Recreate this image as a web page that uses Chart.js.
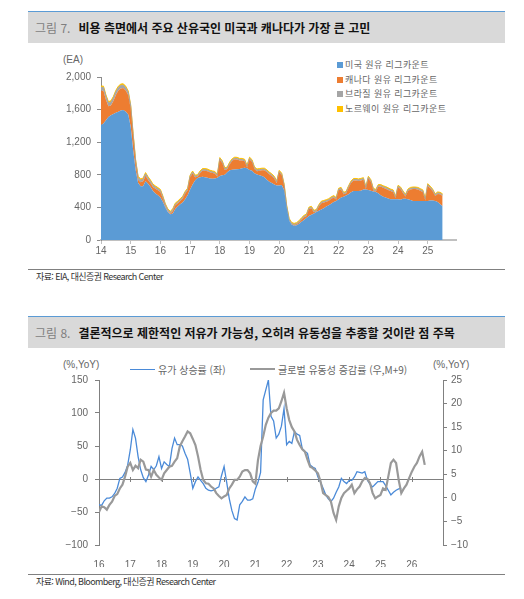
<!DOCTYPE html>
<html lang="ko">
<head>
<meta charset="utf-8">
<script src="https://cdn.jsdelivr.net/npm/chart.js@4.4.1/dist/chart.umd.min.js"></script>
<style>
  body { margin: 0; width: 524px; height: 599px; position: relative; overflow: hidden; background: #fff;
         font-family: "Noto Sans CJK KR", "Liberation Sans", sans-serif; color: #595959; }
  .title-bar { position: absolute; left: 28px; width: 470px; height: 31px; padding-left: 7px;
               background: #d9d9d9; border-top: 1px solid #5b9bd5; font-size: 12px; line-height: 31px; white-space: nowrap; }
  .title-bar .num { color: #7f7f7f; margin-right: 8px; }
  .title-bar b { color: #111; }
  .source { position: absolute; left: 28px; width: 469px; padding-left: 8px; border-top: 1px solid #808080;
            font-size: 9px; line-height: 14px; letter-spacing: -0.6px; color: #333; white-space: nowrap; }
  .unit { position: absolute; font-family: "Liberation Sans", "Noto Sans CJK KR", sans-serif; font-size: 10px; color: #666; }
  canvas { position: absolute; }
  .legend-top { position: absolute; left: 337px; top: 58px; font-size: 9px; letter-spacing: 0.4px; color: #666; }
  .legend-top div { height: 14.5px; line-height: 14.5px; white-space: nowrap; }
  .legend-top span { display: inline-block; width: 6px; height: 6px; margin-right: 2px; vertical-align: 0px; }
  .legend-bottom { position: absolute; top: 362px; font-size: 10px; color: #666; white-space: nowrap; line-height: 16px; }
  .legend-bottom span { display: inline-block; width: 25px; vertical-align: 4px; margin-right: 3px; }
</style>
</head>
<body>

<div class="title-bar" style="top:11px"><span class="num">그림 7.</span><b>비용 측면에서 주요 산유국인 미국과 캐나다가 가장 큰 고민</b></div>
<div class="unit" style="left:63px; top:54px">(EA)</div>
<div class="legend-top">
  <div><span style="background:#5b9bd5"></span>미국 원유 리그카운트</div>
  <div><span style="background:#ed7d31"></span>캐나다 원유 리그카운트</div>
  <div><span style="background:#a5a5a5"></span>브라질 원유 리그카운트</div>
  <div><span style="background:#ffc000"></span>노르웨이 원유 리그카운트</div>
</div>
<canvas id="rig-chart" width="430" height="212" style="left:40px; top:52px; width:430px; height:212px"></canvas>
<div class="source" style="top:269px">자료: EIA, 대신증권 Research Center</div>

<div class="title-bar" style="top:316px"><span class="num">그림 8.</span><b>결론적으로 제한적인 저유가 가능성, 오히려 유동성을 추종할 것이란 점 주목</b></div>
<div class="unit" style="left:63px; top:359px">(%,YoY)</div>
<div class="unit" style="left:433px; top:359px">(%,YoY)</div>
<div class="legend-bottom" style="left:130px"><span style="border-top:1.5px solid #4a8ad8"></span>유가 상승률 (좌)</div>
<div class="legend-bottom" style="left:250px"><span style="border-top:2px solid #999"></span>글로벌 유동성 증감률 (우,M+9)</div>
<canvas id="oil-chart" width="450" height="212" style="left:40px; top:355px; width:450px; height:212px"></canvas>
<div class="source" style="top:574px">자료: Wind, Bloomberg, 대신증권 Research Center</div>

<script>
// ---- Figure 7: oil rig counts, monthly from Jan 2014 ----
const rigStartYear = 2014;
const rigYears = [2014, 2015, 2016, 2017, 2018, 2019, 2020, 2021, 2022, 2023, 2024, 2025];
const rigYearLabels = ["14", "15", "16", "17", "18", "19", "20", "21", "22", "23", "24", "25"];
const rigYTicks = [0, 400, 800, 1200, 1600, 2000];

const usRigs = [
  1410, 1430, 1470, 1510, 1530, 1545, 1560, 1575, 1590, 1595, 1575, 1540,
  1390, 1100, 860, 700, 660, 660, 720, 690, 650, 600, 570, 550,
  520, 470, 400, 345, 315, 325, 380, 410, 440, 460, 500, 550,
  620, 680, 730, 760, 770, 775, 770, 765, 755, 752, 755, 765,
  785, 795, 800, 830, 855, 862, 865, 868, 870, 880, 885, 880,
  860, 850, 820, 805, 795, 785, 770, 740, 715, 700, 680, 670,
  670, 675, 610, 400, 240, 190, 175, 180, 200, 225, 245, 270,
  295, 310, 325, 345, 360, 375, 390, 410, 425, 445, 465, 480,
  500, 520, 530, 545, 560, 585, 600, 600, 600, 605, 620, 620,
  615, 605, 595, 590, 575, 550, 530, 520, 510, 500, 500, 500,
  500, 495, 505, 505, 500, 490, 480, 480, 480, 480, 480, 480,
  480, 485, 485, 480, 465, 440, 415,
];
const canadaRigs = [
  420, 400, 250, 130, 120, 160, 220, 260, 270, 270, 260, 240,
  220, 160, 80, 40, 50, 60, 70, 50, 50, 50, 60, 60,
  70, 40, 15, 8, 10, 30, 45, 40, 40, 50, 70, 60,
  150, 140, 40, 15, 50, 75, 80, 80, 75, 70, 60, 15,
  200, 150, 60, 40, 75, 110, 125, 120, 105, 95, 80, 10,
  130, 110, 50, 40, 55, 70, 85, 95, 92, 85, 75, 30,
  160, 120, 50, 5, 3, 5, 8, 12, 16, 25, 35, 25,
  85, 80, 15, 5, 50, 77, 70, 60, 57, 60, 55, 16,
  110, 100, 30, 25, 80, 113, 130, 130, 125, 126, 120, 10,
  142, 110, 15, 5, 80, 105, 110, 110, 105, 100, 90, 11,
  146, 130, 72, 30, 100, 130, 145, 145, 140, 125, 110, 5,
  186, 150, 113, 60, 100, 120, 125,
];
const brazilRigs = [
  40, 40, 42, 40, 40, 38, 38, 36, 36, 35, 34, 32,
  30, 28, 26, 25, 24, 24, 22, 22, 20, 20, 18, 18,
  16, 15, 15, 14, 14, 14, 13, 13, 13, 12, 12, 12,
  12, 12, 12, 12, 12, 12, 12, 12, 12, 12, 12, 12,
  12, 12, 12, 12, 12, 12, 12, 12, 12, 12, 12, 12,
  12, 12, 12, 12, 12, 12, 12, 12, 12, 12, 12, 12,
  10, 10, 9, 8, 8, 8, 8, 8, 8, 9, 9, 10,
  10, 10, 11, 11, 11, 11, 12, 12, 12, 12, 12, 12,
  12, 12, 12, 12, 12, 12, 12, 12, 12, 12, 12, 12,
  12, 12, 12, 12, 12, 12, 12, 12, 12, 12, 12, 12,
  12, 12, 12, 12, 12, 12, 12, 12, 12, 12, 12, 12,
  12, 12, 12, 12, 12, 12, 12,
];
const norwayRigs = [
  18, 18, 18, 18, 18, 18, 18, 17, 17, 17, 17, 17,
  16, 16, 16, 16, 15, 15, 15, 15, 15, 15, 15, 15,
  14, 14, 14, 14, 14, 14, 14, 14, 14, 14, 14, 14,
  14, 14, 14, 14, 14, 14, 14, 14, 14, 14, 14, 14,
  14, 14, 14, 14, 14, 14, 14, 14, 14, 14, 14, 14,
  14, 14, 14, 14, 14, 14, 14, 14, 14, 14, 14, 14,
  14, 14, 14, 13, 13, 13, 13, 13, 13, 13, 13, 13,
  13, 13, 13, 13, 13, 13, 13, 13, 13, 13, 13, 13,
  13, 13, 13, 13, 13, 13, 13, 13, 13, 13, 13, 13,
  13, 13, 13, 13, 13, 13, 13, 13, 13, 13, 13, 13,
  13, 13, 13, 13, 13, 13, 13, 13, 13, 13, 13, 13,
  13, 13, 13, 13, 13, 13, 13,
];

// ---- Figure 8: oil price YoY vs global liquidity YoY (M+9), monthly from Jan 2016 ----
const oilStartYear = 2016;
const oilYears = [2016, 2017, 2018, 2019, 2020, 2021, 2022, 2023, 2024, 2025, 2026];
const oilYearLabels = ["16", "17", "18", "19", "20", "21", "22", "23", "24", "25", "26"];
const leftTicks = [-100, -50, 0, 50, 100, 150];
const rightTicks = [-10, -5, 0, 5, 10, 15, 20, 25];

const oilYoY = [
  -39, -40, -33, -29, -29, -27, -22, -14, 1, 3, 10, 21,
  44, 75, 62, 34, 14, 2, -4, 6, 19, 14, 20, 34,
  16, 26, 22, 19, 46, 62, 52, 52, 50, 39, 30, 9,
  -14, -4, 3, -2, -7, -14, -17, -18, -17, -14, -12, 5,
  19, -5, -30, -48, -60, -62, -39, -34, -27, -32, -32, -30,
  -15, -5, 10, 120, 135, 150, 95, 88, 62, 68, 80, 107,
  52, 57, 54, 72, 68, 66, 46, 42, 39, 21, 18, 16,
  3, -5, -14, -24, -30, -34, -29, -20, -12, 1, -4, -7,
  -2, -2, 3, 11, 10, 9, 11, -2, -8, -12, -8, -4,
  -4, -4, -10, -17, -24, -20, -17, -15, -14,
];
const liquidityYoY = [
  -3.0, -1.8, -2.0, -2.5, -1.5, -0.8, 0.4, 0.8, 2.0, 2.8, 4.5, 6.6,
  7.4, 5.9, 6.8, 6.3, 8.1, 7.7, 6.0, 5.9, 4.5, 5.9, 4.9, 4.3,
  3.8, 5.2, 5.9, 6.6, 6.8, 7.7, 8.4, 10.9, 12.0, 13.0, 14.1, 13.7,
  12.5, 11.2, 8.8, 5.9, 3.8, 3.1, 3.0, 2.4, 2.0, 1.0, 0.4, -0.1,
  0.3, 0.6, 2.0, 2.8, 3.8, 3.8, 4.5, 5.6, 5.9, 5.9, 5.2, 3.5,
  3.0, 8.0, 11.0, 13.0, 15.5, 17.0, 18.0, 18.5, 18.5, 19.0, 20.5, 22.3,
  19.0, 16.5, 15.0, 14.1, 12.3, 11.2, 10.3, 9.8, 8.1, 6.6, 6.3, 5.8,
  5.2, 3.5, 1.0, 0.6, 0.2, -0.8, -3.2, -4.7, -1.8, 0.0, 1.0, 1.5,
  2.0, 2.8, 1.0, 1.8, 2.4, 3.5, 4.2, 4.0, 3.1, 1.0, -0.1, 0.3,
  0.6, 2.0, 1.7, 4.5, 7.4, 8.1, 7.4, 3.8, 1.0, 2.0, 2.8, 4.2,
  5.5, 6.6, 7.4, 8.8, 9.8, 7.0,
];

const tickFont = { family: "Liberation Sans, Noto Sans CJK KR", size: 10 };
const tickColor = "#666";

Chart.defaults.animation = false;
Chart.defaults.plugins.legend.display = false;
Chart.defaults.plugins.tooltip.enabled = false;

document.addEventListener("DOMContentLoaded", function () {
  createRigChart();
  createOilChart();
});

function monthly(values, startYear) {
  return values.map((v, i) => ({ x: startYear + i / 12, y: v }));
}

function fixedTicks(values) {
  return (scale) => {
    scale.ticks = values.map((v) => ({ value: v }));
  };
}

function minus(value) {
  return String(value).replace("-", "\u2212");
}

function areaSet(label, values, color, fill, width) {
  return {
    label: label,
    data: monthly(values, rigStartYear),
    backgroundColor: color,
    borderColor: color,
    borderWidth: width,
    fill: fill,
    pointRadius: 0,
    tension: 0,
  };
}

function createRigChart() {
  new Chart(document.getElementById("rig-chart"), {
    type: "line",
    data: {
      datasets: [
        areaSet("미국 원유 리그카운트", usRigs, "#5b9bd5", "origin", 0),
        areaSet("캐나다 원유 리그카운트", canadaRigs, "#ed7d31", "-1", 0),
        areaSet("브라질 원유 리그카운트", brazilRigs, "#a5a5a5", "-1", 1),
        areaSet("노르웨이 원유 리그카운트", norwayRigs, "#ffc000", "-1", 1),
      ],
    },
    options: {
      responsive: false,
      layout: { padding: { top: 25, right: 14, left: 0, bottom: 0 } },
      scales: {
        x: {
          type: "linear",
          min: 2014,
          max: 2025.95,
          afterBuildTicks: fixedTicks(rigYears),
          afterFit: (s) => { s.height = 24; s.paddingLeft = 0; s.paddingRight = 0; },
          border: { color: "#c0c0c0", width: 2 },
          grid: { drawOnChartArea: false, tickLength: 4, color: "#bfbfbf" },
          ticks: {
            padding: 1,
            maxRotation: 0,
            font: tickFont,
            color: tickColor,
            callback: (v) => rigYearLabels[rigYears.indexOf(v)],
          },
        },
        y: {
          stacked: true,
          min: 0,
          max: 2000,
          afterBuildTicks: fixedTicks(rigYTicks),
          afterFit: (s) => { s.width = 61; s.paddingTop = 0; s.paddingBottom = 0; },
          border: { color: "#8c8c8c", width: 1 },
          grid: { drawOnChartArea: false, tickLength: 4, color: "#8c8c8c" },
          ticks: {
            padding: 6,
            font: tickFont,
            color: tickColor,
            callback: (v) => v.toLocaleString("en-US"),
          },
        },
      },
    },
  });
}

// small year marks on the zero line, as in the original
const zeroLineMarks = {
  id: "zeroLineMarks",
  beforeDatasetsDraw(chart) {
    const { ctx, scales } = chart;
    const y0 = scales.y.getPixelForValue(0);
    ctx.save();
    ctx.strokeStyle = "#808080";
    ctx.lineWidth = 1;
    oilYears.forEach((year) => {
      const x = Math.round(scales.x.getPixelForValue(year)) + 0.5;
      ctx.beginPath();
      ctx.moveTo(x, y0 - 2);
      ctx.lineTo(x, y0 + 3);
      ctx.stroke();
    });
    ctx.restore();
  },
};

function createOilChart() {
  new Chart(document.getElementById("oil-chart"), {
    type: "line",
    data: {
      datasets: [
        {
          label: "유가 상승률 (좌)",
          data: monthly(oilYoY, oilStartYear),
          yAxisID: "y",
          borderColor: "#4a8ad8",
          borderWidth: 1.3,
          pointRadius: 0,
          tension: 0,
          order: 2,
        },
        {
          label: "글로벌 유동성 증감률 (우,M+9)",
          data: monthly(liquidityYoY, oilStartYear),
          yAxisID: "y1",
          borderColor: "#999999",
          borderWidth: 2.2,
          pointRadius: 0,
          tension: 0,
          order: 1,
        },
      ],
    },
    options: {
      responsive: false,
      layout: { padding: { top: 25, right: 7, left: 0, bottom: 0 } },
      scales: {
        x: {
          type: "linear",
          min: 2016,
          max: 2027,
          afterBuildTicks: fixedTicks(oilYears),
          afterFit: (s) => { s.height = 22; s.paddingLeft = 0; s.paddingRight = 0; },
          border: { display: false },
          grid: { display: false },
          ticks: {
            padding: 6,
            maxRotation: 0,
            font: tickFont,
            color: tickColor,
            callback: (v) => oilYearLabels[oilYears.indexOf(v)],
          },
        },
        y: {
          position: "left",
          min: -100,
          max: 150,
          afterBuildTicks: fixedTicks(leftTicks),
          afterFit: (s) => { s.width = 59; s.paddingTop = 0; s.paddingBottom = 0; },
          border: { color: "#808080", width: 1 },
          grid: {
            color: (c) => (c.tick && c.tick.value === 0 ? "#808080" : "transparent"),
            tickColor: "#808080",
            tickLength: 4,
          },
          ticks: { padding: 7, font: tickFont, color: tickColor, callback: minus },
        },
        y1: {
          position: "right",
          min: -10,
          max: 25,
          afterBuildTicks: fixedTicks(rightTicks),
          afterFit: (s) => { s.width = 40; s.paddingTop = 0; s.paddingBottom = 0; },
          border: { color: "#808080", width: 1 },
          grid: { drawOnChartArea: false, color: "#808080", tickLength: 4 },
          ticks: { padding: 4, font: tickFont, color: tickColor, callback: minus },
        },
      },
    },
    plugins: [zeroLineMarks],
  });
}
</script>
</body>
</html>
